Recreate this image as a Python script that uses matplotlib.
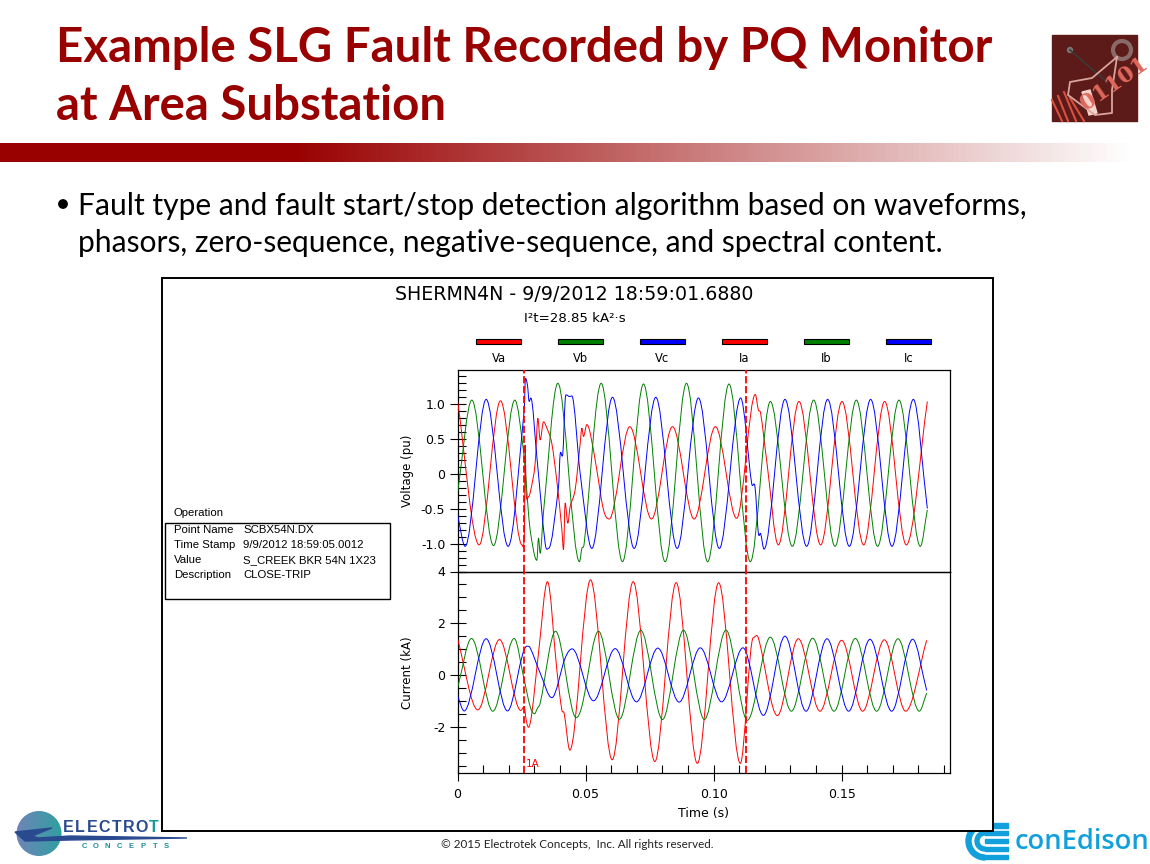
import numpy as np
import matplotlib
matplotlib.use("Agg")
import matplotlib.pyplot as plt
from matplotlib.colors import LinearSegmentedColormap
from matplotlib.patches import Circle, PathPatch, Polygon, Rectangle, Wedge
from matplotlib.path import Path
from matplotlib.ticker import FixedLocator, FixedFormatter, MultipleLocator

# Values: extrema plus the shoulders during the fault
va_t = [0, .00846, .01679, .02525, .02616, .02642, .02681, .02772, .02863, .03033, .03137, .03228, .03358,
        .03488, .03683, .03905, .04074, .04139, .04204, .04308, .04399, .04594, .0479, .04855, .0492, .0505,
        .0518, .0544, .05701, .05922, .06729, .07575, .08395, .09241, .1007, .109, .11629, .11746, .11837,
        .12071, .12527, .13334, .1418, .15013, .15859, .16679, .17525, .18345]
va_v = [1.04, -1.02, 1.04, -1.02, -.8, .41, -.28, -.33, -.23, .15, .79, .48, .74,
        .65, .43, -.19, -.8, -1.09, -.42, -.71, -.47, -.23, .43, .65, .53, .7,
        .58, .05, -.52, -.65, .67, -.65, .67, -.65, .67, -.64, 1.13, .91, .86,
        .19, -1.02, 1.03, -1.02, 1.03, -1.02, 1.03, -1.02, 1.03]

vb_t = [0, .0056, .01406, .02239, .02603, .02733, .02837, .03098, .03163, .03228, .03358, .03918, .04763,
        .04855, .04946, .05609, .06442, .07262, .08108, .08941, .09768, .10601, .11434, .12215, .13074,
        .13907, .1474, .15573, .16405, .17238, .18071, .18345]
vb_v = [-.28, 1.05, -1.03, 1.05, .24, -.38, -.81, -1.24, -.92, -1.14, -.55, 1.29, -1.26,
        -1.07, -1.0, 1.29, -1.26, 1.28, -1.26, 1.29, -1.26, 1.28, -1.26, 1.03, -1.04,
        1.05, -1.04, 1.05, -1.04, 1.05, -1.04, -.52]

vc_t = [0, .00299, .01119, .01978, .02603, .02655, .02733, .02798, .02863, .03098, .03423, .03553, .03944,
        .04009, .04113, .04204, .04269, .04373, .04464, .0479, .05245, .06052, .06898, .07744, .08577, .0941,
        .10223, .11056, .11486, .11616, .11746, .11837, .11967, .12787, .13633, .14453, .15299, .16132,
        .16965, .17798, .18345]
vc_v = [-.59, -1.04, 1.06, -1.04, .9, 1.36, 1.26, 1.03, 1.08, .24, -1.0, -1.07, -.19,
        .28, .29, 1.05, 1.12, 1.1, 1.11, 0, -1.07, 1.09, -1.07, 1.09, -1.07, 1.08,
        -1.07, 1.08, -.14, -.19, -.85, -.86, -1.08, 1.06, -1.04, 1.06, -1.04, 1.06,
        -1.04, 1.06, -.5]

ia_t = [0, .00794, .0164, .02473, .02603, .02681, .02772, .02902, .03163, .03514, .03878, .04074, .04165,
        .04386, .05193, .06039, .06859, .07705, .08538, .09364, .10197, .11043, .11551, .11746, .12488,
        .13308, .14154, .15, .1582, .16666, .17499, .18319]
ia_i = [1.41, -1.33, 1.38, -1.35, -1.2, -1.72, -2.0, -1.46, .86, 3.61, .22, -1.33, -1.46,
        -2.88, 3.68, -3.25, 3.61, -3.32, 3.57, -3.39, 3.57, -3.39, 1.45, 1.44, -1.55,
        1.41, -1.38, 1.35, -1.38, 1.37, -1.38, 1.35]

ib_t = [0, .00547, .0138, .02213, .02603, .02837, .03006, .03124, .03228, .03826, .04633, .04855, .05505,
        .06325, .07158, .08004, .08824, .09638, .10484, .11317, .12215, .13035, .13868, .14701, .15534,
        .16367, .172, .18033, .18319]
ib_i = [-.49, 1.42, -1.38, 1.42, -.17, -1.2, -1.48, -1.26, -1.07, 1.7, -1.63, -1.2, 1.7,
        -1.69, 1.73, -1.7, 1.74, -1.7, 1.74, -1.73, 1.47, -1.38, 1.43, -1.38, 1.42,
        -1.38, 1.41, -1.38, -.68]

ic_t = [0, .0026, .01119, .01952, .02707, .02837, .03228, .03683, .04204, .04477, .0531, .06156, .06989,
        .07822, .08655, .09481, .10314, .11147, .11942, .12787, .13607, .14427, .15273, .16106, .16952,
        .17772, .18319]
ic_i = [-.79, -1.37, 1.41, -1.37, 1.12, 1.06, .09, -.86, .67, 1.02, -.98, 1.03, -1.02,
        1.05, -1.03, 1.06, -1.02, 1.06, -1.54, 1.51, -1.38, 1.41, -1.38, 1.39, -1.38,
        1.39, -.58]

fault_times = [.02603, .1127]
legend_names = ["Va", "Vb", "Vc", "Ia", "Ib", "Ic"]
legend_colors = ["#ff0000", "#008000", "#0000ff", "#ff0000", "#008000", "#0000ff"]
info_keys = ["Point Name", "Time Stamp", "Value", "Description"]
info_vals = ["SCBX54N.DX", "9/9/2012 18:59:05.0012", "S_CREEK BKR 54N 1X23", "CLOSE-TRIP"]

DARK_RED = "#990000"
W, H = 1150, 864


def smooth_wave(ax, t, y, color):
    # pen-style curve through the read values, flat at every peak and trough
    t = np.array(t, dtype=float)
    y = np.array(y, dtype=float)
    m = np.zeros(len(t))
    for i in range(1, len(t) - 1):
        if (y[i] - y[i - 1]) * (y[i + 1] - y[i]) > 0:
            m[i] = (y[i + 1] - y[i - 1]) / (t[i + 1] - t[i - 1])
    m[0] = (y[1] - y[0]) / (t[1] - t[0])
    m[-1] = (y[-1] - y[-2]) / (t[-1] - t[-2])
    verts = [(t[0], y[0])]
    codes = [Path.MOVETO]
    for i in range(len(t) - 1):
        d = (t[i + 1] - t[i]) / 3
        verts += [(t[i] + d, y[i] + m[i] * d), (t[i + 1] - d, y[i + 1] - m[i + 1] * d), (t[i + 1], y[i + 1])]
        codes += [Path.CURVE4] * 3
    ax.add_patch(PathPatch(Path(verts, codes), fill=False, edgecolor=color, lw=0.7, zorder=3))


def px_axes(fig, left, top, right, bottom):
    return fig.add_axes([left / W, 1 - bottom / H, (right - left) / W, (bottom - top) / H])


fig = plt.figure(figsize=(11.5, 8.64), dpi=100)

# --- Slide background, pixel coordinates ---
bg = fig.add_axes([0, 0, 1, 1])
bg.set_xlim(0, W)
bg.set_ylim(H, 0)
bg.axis("off")

bg.text(56, 48, "Example SLG Fault Recorded by PQ Monitor", family="Lato", weight="bold",
        fontsize=34.1, color=DARK_RED, va="center")
bg.text(56, 106, "at Area Substation", family="Lato", weight="bold",
        fontsize=34.1, color=DARK_RED, va="center")

band = LinearSegmentedColormap.from_list("band", [(0, DARK_RED), (0.255, DARK_RED), (1, "#ffffff")])
bg.imshow(np.linspace(0, 1, 600).reshape(1, -1), cmap=band, extent=(0, 1135, 162, 143), aspect="auto")

bg.add_patch(Circle((63, 204), 4.2, color="black"))
bg.text(78, 206, "Fault type and fault start/stop detection algorithm based on waveforms,",
        family="Lato", fontsize=21.65, color="black", va="center")
bg.text(78, 243, "phasors, zero-sequence, negative-sequence, and spectral content.",
        family="Lato", fontsize=21.65, color="black", va="center")

# corner picture, top right
square = Rectangle((1052, 35), 85, 86, color="#5c1a18")
bg.add_patch(square)
for xa, xb, ya in [(1052, 1062, 100), (1058, 1068, 96), (1064, 1076, 92), (1070, 1084, 98)]:
    bg.plot([xa, xb], [ya, 121], color="#d9503f", lw=1.5, clip_path=square)
bg.plot([1070, 1107], [50, 82], color="#3a3a3a", lw=1.2)
bg.add_patch(Circle((1070, 50), 2.5, color="#777777"))
bg.add_patch(Circle((1122, 50), 9, fill=False, edgecolor="#8a6a68", lw=3))
bg.plot([1117, 1092, 1070, 1068, 1095, 1112, 1112, 1117],
        [57, 78, 82, 95, 115, 113, 90, 57], color="#d9a59c", lw=1.3)
bg.add_patch(Polygon([(1082, 92), (1090, 90), (1097, 113), (1089, 115)], color="#f6d4cc"))
bits = bg.text(1114, 84, "01101", family="DejaVu Serif", weight="bold", fontsize=16, color="#e0685c",
               rotation=35, ha="center", va="center")
bits.set_clip_path(square)

# electrotek logo, partly under the chart frame
disc = bg.imshow(np.linspace(0, 1, 80).reshape(1, -1),
                 cmap=LinearSegmentedColormap.from_list("disc", ["#6f84b8", "#2fa0a0"]),
                 extent=(16, 62, 856, 811), aspect="auto")
disc.set_clip_path(Circle((39, 833.5), 22.5, transform=bg.transData))
bg.add_patch(Polygon([(15, 832), (52, 828), (32, 836), (38, 838), (70, 836), (187, 838), (70, 840), (25, 841)],
                     color="#2a4a90"))
for i, ch in enumerate("ELECTROTEK"):
    bg.text(68 + i * 12.2, 827.5, ch, family="Liberation Sans", weight="bold", fontsize=11.5,
            color="#2a4a90" if i < 7 else "#1c9a9a", va="center", ha="center")
for i, ch in enumerate("CONCEPTS"):
    bg.text(84 + i * 11.8, 846.5, ch, family="Liberation Sans", weight="bold", fontsize=5.5,
            color="#1c8f9a", va="center", ha="center")

# coned logo
CONED = "#12a0dc"
for r, w in [(14, 5), (6, 4)]:
    bg.add_patch(Wedge((985, 841), r + w, 90, 270, width=w, color=CONED))
bg.add_patch(Rectangle((985, 823), 23, 4.5, color=CONED))
bg.add_patch(Rectangle((985, 831), 23, 4, color=CONED))
bg.add_patch(Rectangle((985, 839), 23, 4, color=CONED))
bg.add_patch(Rectangle((985, 847), 23, 4, color=CONED))
bg.add_patch(Rectangle((985, 854.5), 23, 4.5, color=CONED))
bg.text(1015, 842, "conEdison", family="Open Sans", weight="semibold", fontsize=19.6, color=CONED, va="center")

bg.text(577, 845, "\u00a9 2015 Electrotek Concepts,  Inc. All rights reserved.", family="Lato",
        fontsize=8.4, color="#222222", ha="center", va="center")

# chart frame sits over the logos
bg.add_patch(Rectangle((162, 278), 831, 553, facecolor="white", edgecolor="black", lw=1.4, zorder=5))

# --- Chart furniture ---
bg.text(574.5, 295, "SHERMN4N - 9/9/2012 18:59:01.6880", family="DejaVu Sans", fontsize=13.7,
        ha="center", va="center", zorder=6)
bg.text(575, 318, "I\u00b2t=28.85 kA\u00b2\u00b7s", family="DejaVu Sans", fontsize=9.6, ha="center", va="center", zorder=6)
for i, (name, col) in enumerate(zip(legend_names, legend_colors)):
    x0 = 476 + i * 82
    bg.add_patch(Rectangle((x0, 339), 45, 4.5, facecolor=col, edgecolor="black", lw=0.8, zorder=6))
    bg.text(x0 + 22.5, 358, name, family="DejaVu Sans", fontsize=8.3, ha="center", va="center", zorder=6)

bg.text(174, 513, "Operation", family="Liberation Sans", fontsize=8.2, va="center", zorder=6)
bg.add_patch(Rectangle((165, 523), 225, 76, facecolor="white", edgecolor="black", lw=1, zorder=6))
for i, (k, v) in enumerate(zip(info_keys, info_vals)):
    bg.text(174, 530 + i * 15, k, family="Liberation Sans", fontsize=8.2, va="center", zorder=7)
    bg.text(243, 530 + i * 15, v, family="Liberation Sans", fontsize=8.2, va="center", zorder=7)

# --- Voltage panel ---
ax_v = px_axes(fig, 457.5, 370, 950, 571.5)
ax_i = px_axes(fig, 457.5, 571.5, 950, 773)

smooth_wave(ax_v, va_t, va_v, "#ff0000")
smooth_wave(ax_v, vb_t, vb_v, "#008000")
smooth_wave(ax_v, vc_t, vc_v, "#0000ff")
ax_v.set_ylim(-1.40, 1.48)
ax_v.yaxis.set_major_locator(FixedLocator([-1, -.5, 0, .5, 1]))
ax_v.yaxis.set_major_formatter(FixedFormatter(["-1.0", "-0.5", "0", "0.5", "1.0"]))
ax_v.yaxis.set_minor_locator(MultipleLocator(0.1))
ax_v.set_xticks([])
ax_v.set_ylabel("Voltage (pu)", fontsize=8.5)
ax_v.yaxis.set_label_coords(-0.089, 0.5)

# --- Current panel ---
smooth_wave(ax_i, ia_t, ia_i, "#ff0000")
smooth_wave(ax_i, ib_t, ib_i, "#008000")
smooth_wave(ax_i, ic_t, ic_i, "#0000ff")
ax_i.set_ylim(-3.76, 4)
ax_i.yaxis.set_major_locator(FixedLocator([-2, 0, 2, 4]))
ax_i.yaxis.set_major_formatter(FixedFormatter(["-2", "0", "2", "4"]))
ax_i.yaxis.set_minor_locator(MultipleLocator(0.5))
ax_i.xaxis.set_major_locator(FixedLocator([0, .05, .10, .15]))
ax_i.xaxis.set_major_formatter(FixedFormatter(["0", "0.05", "0.10", "0.15"]))
ax_i.xaxis.set_minor_locator(MultipleLocator(0.01))
ax_i.set_ylabel("Current (kA)", fontsize=8.5)
ax_i.yaxis.set_label_coords(-0.089, 0.5)
ax_i.set_xlabel("Time (s)", fontsize=9)
ax_i.xaxis.set_label_coords(0.5, -0.17)
ax_i.text(.0268, -3.43, "1A", color="#ff0000", fontsize=7.5, va="center")

for ax in (ax_v, ax_i):
    ax.set_xlim(0, .1923)
    ax.set_zorder(10)
    ax.patch.set_alpha(0)
    ax.tick_params(which="major", direction="inout", length=11.5, width=0.8, labelsize=9)
    ax.tick_params(which="minor", direction="in", length=5.8, width=0.8)
    ax.tick_params(axis="y", which="major", pad=3)
    ax.tick_params(axis="x", which="major", pad=5)
    for t in fault_times:
        ax.axvline(t, color="#ff0000", ls=(0, (4, 1.5)), lw=1.3, zorder=4)
    for s in ax.spines.values():
        s.set_linewidth(0.9)
ax_v.tick_params(axis="x", which="both", length=0)

fig.savefig("out.png", dpi=100)
